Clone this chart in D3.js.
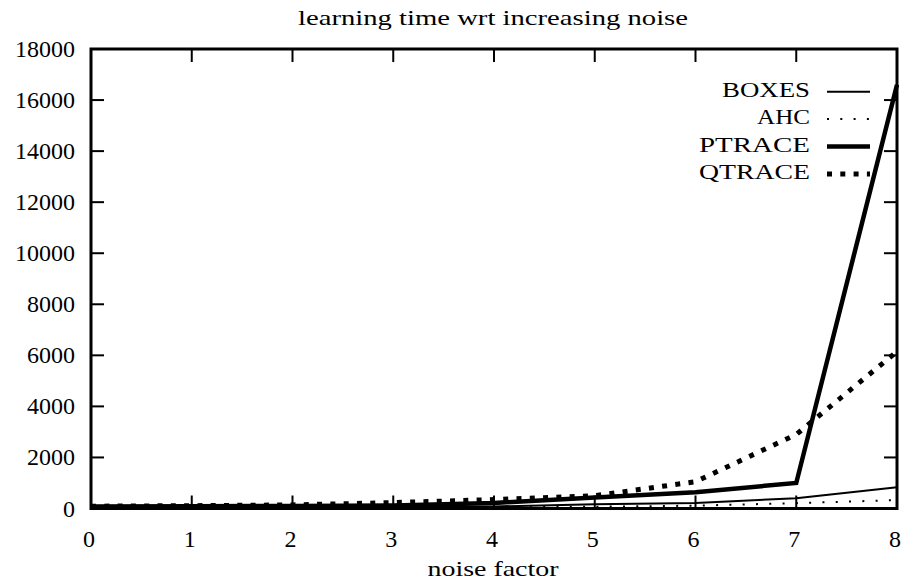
<!DOCTYPE html>
<html lang="en">
<head>
<meta charset="utf-8">
<title>learning time wrt increasing noise</title>
<script src="https://d3js.org/d3.v7.min.js"></script>
<style>
  body { margin: 0; background: #fff; }
</style>
</head>
<body>
<script>
// data
var noise = [0, 1, 2, 3, 4, 5, 6, 7, 8];
var boxes = [30, 40, 50, 60, 80, 170, 220, 400, 830];
var ahc = [10, 15, 20, 25, 40, 70, 110, 210, 330];
var ptrace = [80, 90, 100, 120, 220, 430, 640, 1000, 16600];
var qtrace = [90, 110, 140, 230, 350, 500, 1050, 2900, 6150];
var yTicks = [0, 2000, 4000, 6000, 8000, 10000, 12000, 14000, 16000, 18000];

var W = 906, H = 583;
var pLeft = 91, pRight = 897, pTop = 49, pBottom = 508.5;
var serif = "'Liberation Serif', 'DejaVu Serif', serif";

var x = d3.scaleLinear().domain([0, 8]).range([pLeft, pRight]);
var y = d3.scaleLinear().domain([0, 18000]).range([pBottom, pTop]);

var svg = d3.select("body").append("svg")
    .attr("width", W).attr("height", H);

// the original font is wider than Times, so stretch words to the measured widths
function label(px, py, str, anchor, size, width) {
  var t = svg.append("text")
      .attr("x", px).attr("y", py)
      .attr("text-anchor", anchor)
      .attr("font-family", serif)
      .attr("font-size", size)
      .attr("fill", "#000")
      .text(String(str));
  if (width) t.attr("textLength", width).attr("lengthAdjust", "spacingAndGlyphs");
  return t;
}

label(493, 25, "learning time wrt increasing noise", "middle", 22, 390);

var series = [
  {name: "BOXES", values: boxes, width: 2, dash: null, len: 88},
  {name: "AHC", values: ahc, width: 2, dash: "2 11.3", len: 53},
  {name: "PTRACE", values: ptrace, width: 4.5, dash: null, len: 111},
  {name: "QTRACE", values: qtrace, width: 5, dash: "5 8.3", len: 111}
];

var line = d3.line()
    .x(function (d, i) { return x(noise[i]); })
    .y(function (d) { return y(d); });

series.forEach(function (s) {
  svg.append("path")
      .datum(s.values)
      .attr("d", line)
      .attr("fill", "none")
      .attr("stroke", "#000")
      .attr("stroke-width", s.width)
      .attr("stroke-dasharray", s.dash);
});

// ticks point inward on all four sides
var tl = 13;
var g = svg.append("g").attr("stroke", "#000").attr("stroke-width", 2);
yTicks.forEach(function (t) {
  g.append("line").attr("x1", pLeft).attr("x2", pLeft + tl).attr("y1", y(t)).attr("y2", y(t));
  g.append("line").attr("x1", pRight).attr("x2", pRight - tl).attr("y1", y(t)).attr("y2", y(t));
  label(75, y(t) + 8, t, "end", 24);
});
noise.forEach(function (t) {
  g.append("line").attr("x1", x(t)).attr("x2", x(t)).attr("y1", pBottom).attr("y2", pBottom - tl);
  g.append("line").attr("x1", x(t)).attr("x2", x(t)).attr("y1", pTop).attr("y2", pTop + tl);
  label(x(t) - 2, 547, t, "middle", 24);
});

svg.append("rect")
    .attr("x", pLeft).attr("y", pTop)
    .attr("width", pRight - pLeft).attr("height", pBottom - pTop)
    .attr("fill", "none").attr("stroke", "#000").attr("stroke-width", 3);

label(493, 576, "noise factor", "middle", 22, 131);

// legend
series.forEach(function (s, i) {
  var by = 96.7 + i * 27.4;
  label(810, by, s.name, "end", 22, s.len);
  svg.append("line")
      .attr("x1", 827).attr("x2", 870)
      .attr("y1", by - 5).attr("y2", by - 5)
      .attr("stroke", "#000")
      .attr("stroke-width", s.width)
      .attr("stroke-dasharray", s.dash);
});
</script>
</body>
</html>
